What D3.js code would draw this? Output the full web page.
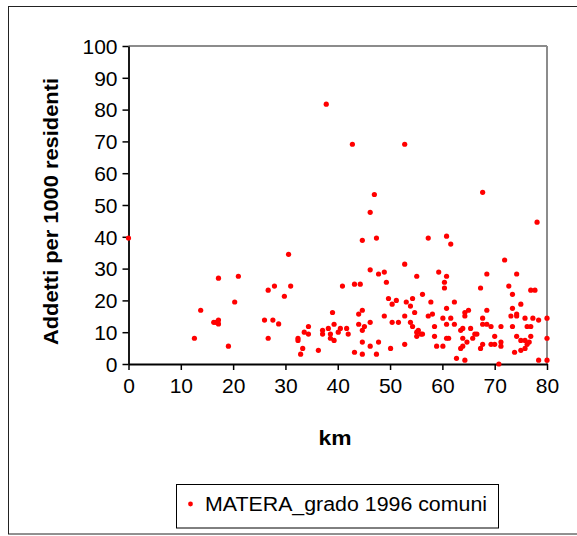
<!DOCTYPE html>
<html>
<head>
<meta charset="utf-8">
<script src="https://cdn.jsdelivr.net/npm/d3@7"></script>
<style>
  html, body { margin: 0; padding: 0; background: #fff; }
  svg { display: block; font-family: "Liberation Sans", Arial, sans-serif; }
</style>
</head>
<body>
<svg id="chart" width="577" height="536"></svg>
<script>
// ---- Data ----
const seriesName = "MATERA_grado 1996 comuni";
const xTitle = "km";
const yTitle = "Addetti per 1000 residenti";
const xTicks = [0, 10, 20, 30, 40, 50, 60, 70, 80];
const yTicks = [0, 10, 20, 30, 40, 50, 60, 70, 80, 90, 100];

const km = [
  0, 12.6, 13.8, 16.3, 16.7, 17.2, 17.2, 17.2, 19.1, 20.3, 21.0,
  26.0, 26.7, 26.7, 27.6, 27.9, 28.7, 29.8, 30.6, 31.0,
  32.4, 32.4, 32.9, 33.3, 33.6, 34.4, 34.4, 36.3, 37.1, 37.1, 37.8,
  38.2, 38.6, 38.6, 39.0, 39.3, 39.3, 40.1, 40.5, 40.9, 41.7, 42.0,
  42.8, 43.2, 43.2, 44.0, 44.0, 44.3, 44.7, 44.7, 44.7, 44.7, 44.7,
  45.1, 46.2, 46.2, 46.2, 46.2, 47.0, 47.4, 47.4, 47.8, 47.8,
  48.9, 48.9, 49.3, 49.7, 50.1, 50.4, 50.4, 51.2, 51.6,
  52.8, 52.8, 52.8, 52.8, 53.1, 53.9, 53.9, 54.3, 54.3, 54.7,
  55.1, 55.1, 55.1, 55.4, 55.9, 56.2, 56.2, 57.3, 57.3, 57.8, 58.1,
  58.5, 58.5, 58.9, 59.3, 60.1, 60.1, 60.4, 60.4, 60.8, 60.8, 60.8,
  60.8, 60.8, 61.2, 61.6, 61.6, 62.3, 62.3, 62.7, 63.5, 63.5,
  63.9, 63.9, 63.9, 64.3, 64.3, 64.3, 64.7, 65.0, 65.4, 65.8, 66.2,
  66.6, 67.3, 67.3, 67.7, 67.7, 67.7, 67.7, 68.5, 68.5, 68.5,
  69.3, 69.3, 70.0, 70.0, 70.8, 71.2, 71.2, 71.2, 71.9, 72.7,
  73.1, 73.4, 73.4, 73.4, 73.8, 74.2, 74.2, 74.2, 74.2, 75.0, 75.0,
  75.0, 75.8, 75.8, 75.8, 76.2, 76.2, 76.6, 76.9, 76.9, 76.9, 77.3,
  77.7, 78.1, 78.4, 78.4, 80, 80, 80
];
const addetti = [
  39.6, 8.1, 16.9, 13.1, 13.1, 13.8, 12.6, 27.0, 5.6, 19.5, 27.6,
  13.8, 23.2, 8.1, 13.8, 24.5, 12.6, 21.3, 34.5, 24.5,
  8.1, 7.4, 3.1, 4.9, 10.0, 11.8, 9.4, 4.3, 10.6, 9.4, 81.7,
  11.2, 9.4, 8.1, 16.2, 7.4, 12.5, 10.0, 11.2, 24.5, 11.2, 9.4,
  69.1, 25.1, 3.7, 15.7, 12.5, 25.1, 38.9, 16.9, 10.6, 6.9, 3.1,
  11.8, 13.1, 5.6, 29.6, 47.7, 53.3, 39.6, 3.1, 6.9, 28.3,
  28.9, 15.1, 25.7, 20.6, 4.9, 18.8, 13.1, 20.0, 13.1,
  69.1, 31.4, 15.1, 6.2, 19.5, 18.2, 13.1, 20.6, 11.8, 16.2,
  27.6, 8.7, 10.0, 10.6, 9.4, 21.9, 9.4, 39.6, 15.1, 19.5, 15.7,
  11.8, 8.7, 5.6, 28.9, 5.6, 14.4, 25.7, 23.9, 40.2, 27.6, 17.5,
  12.5, 8.1, 8.1, 37.7, 14.4, 19.5, 12.5, 1.8, 10.6, 4.9,
  5.6, 11.2, 8.1, 16.2, 15.1, 1.2, 6.9, 16.9, 11.2, 8.1, 9.4,
  9.4, 23.9, 4.9, 54.0, 14.4, 12.5, 6.2, 28.3, 16.9, 12.5,
  11.8, 6.2, 8.7, 6.2, 0, 5.6, 6.9, 11.8, 32.7, 24.5,
  15.1, 21.9, 17.5, 11.8, 3.7, 28.3, 15.7, 15.1, 8.7, 18.8, 4.3,
  7.4, 14.4, 4.9, 7.4, 6.2, 11.8, 6.9, 23.2, 11.8, 8.7, 14.4,
  23.2, 44.6, 13.8, 1.2, 14.4, 8.1, 1.2
];

// ---- Layout ----
const svg = d3.select("#chart");
const plot = { left: 128.5, right: 547, top: 46, bottom: 364 };

const x = d3.scaleLinear().domain([0, 80]).range([plot.left, plot.right]);
const y = d3.scaleLinear().domain([0, 100]).range([plot.bottom, plot.top]);

// outer chart frame
svg.append("rect")
  .attr("x", 8.5).attr("y", 6.5)
  .attr("width", 590).attr("height", 527.5)
  .attr("fill", "none").attr("stroke", "#222").attr("stroke-width", 1);

// plot area frame: top and right in gray
svg.append("line")
  .attr("x1", plot.left).attr("x2", plot.right)
  .attr("y1", plot.top).attr("y2", plot.top)
  .attr("stroke", "#8c8c8c").attr("stroke-width", 2);
svg.append("line")
  .attr("x1", plot.right).attr("x2", plot.right)
  .attr("y1", plot.top).attr("y2", plot.bottom)
  .attr("stroke", "#8c8c8c").attr("stroke-width", 2);

// axes
const yAxis = d3.axisLeft(y).tickValues(yTicks).tickSize(6).tickPadding(5).tickSizeOuter(0);
const xAxis = d3.axisBottom(x).tickValues(xTicks).tickSize(6).tickPadding(8).tickSizeOuter(0);

const gy = svg.append("g").attr("transform", `translate(${plot.left},0)`).call(yAxis);
const gx = svg.append("g").attr("transform", `translate(0,${plot.bottom})`).call(xAxis);

[gx, gy].forEach(g => {
  g.selectAll("path.domain").attr("stroke", "#000").attr("stroke-width", 1.8);
  g.selectAll(".tick line").attr("stroke", "#000").attr("stroke-width", 1.5);
  g.selectAll(".tick text")
    .attr("fill", "#000")
    .style("font-family", '"Liberation Sans", Arial, sans-serif')
    .style("font-size", "21px");
});
gy.selectAll(".tick text").attr("dy", "0.35em");

// points
svg.append("g").selectAll("circle")
  .data(km.map((k, i) => ({ k, v: addetti[i] })))
  .join("circle")
  .attr("cx", d => x(d.k))
  .attr("cy", d => y(d.v))
  .attr("r", 2.6)
  .attr("fill", "#ff0000");

// axis titles
svg.append("text")
  .attr("x", 335).attr("y", 445)
  .attr("text-anchor", "middle")
  .attr("textLength", 33).attr("lengthAdjust", "spacingAndGlyphs")
  .style("font-size", "20px").style("font-weight", "bold")
  .text(xTitle);

svg.append("text")
  .attr("transform", `translate(58,211.5) rotate(-90)`)
  .attr("text-anchor", "middle")
  .attr("textLength", 267).attr("lengthAdjust", "spacingAndGlyphs")
  .style("font-size", "21px").style("font-weight", "bold")
  .text(yTitle);

// legend
const lg = svg.append("g");
lg.append("rect")
  .attr("x", 176.5).attr("y", 484.5)
  .attr("width", 322).attr("height", 43.5)
  .attr("fill", "#fff").attr("stroke", "#000").attr("stroke-width", 1);
lg.append("circle")
  .attr("cx", 190.5).attr("cy", 504)
  .attr("r", 2.4).attr("fill", "#ff0000");
lg.append("text")
  .attr("x", 205).attr("y", 511)
  .attr("textLength", 282).attr("lengthAdjust", "spacingAndGlyphs")
  .style("font-size", "20px")
  .text(seriesName);
</script>
</body>
</html>
